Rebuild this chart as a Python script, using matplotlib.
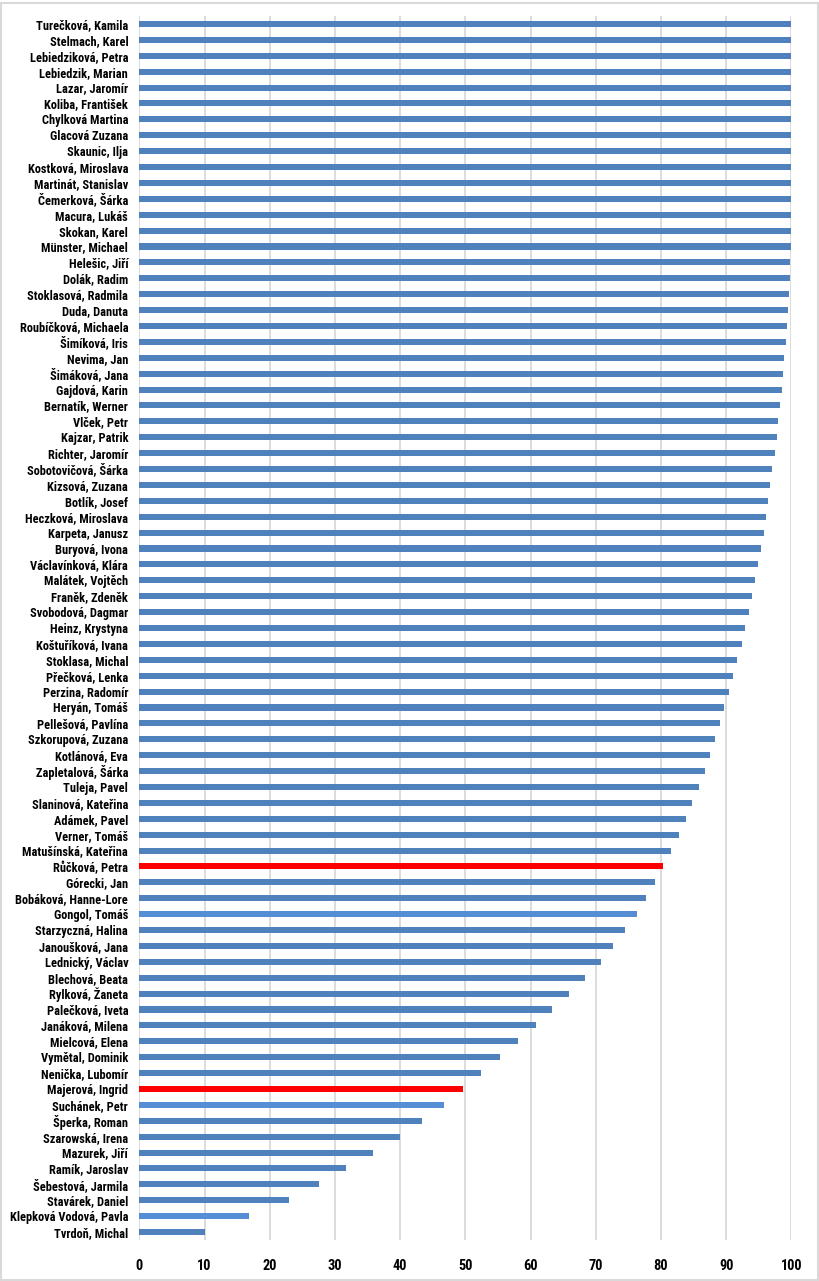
import matplotlib.pyplot as plt
from matplotlib import font_manager
from matplotlib.patches import Rectangle

# narrow bold face similar to Calibri, whichever is installed
installed = {f.name for f in font_manager.fontManager.ttflist}
label_font, label_size, tick_size = 'DejaVu Sans', 6.9, 9.0
for fam, size, tsize in [('Liberation Sans Narrow', 9.1, 11.0), ('DejaVu Sans Condensed', 7.7, 9.4),
                         ('Roboto Condensed', 8.9, 10.4), ('Open Sans Condensed', 8.9, 10.4),
                         ('Liberation Sans', 7.7, 9.4)]:
    if fam in installed:
        label_font, label_size, tick_size = fam, size, tsize
        break

plt.rcParams['font.family'] = [label_font, 'DejaVu Sans']

names = [
    "Turečková, Kamila", "Stelmach, Karel", "Lebiedziková, Petra", "Lebiedzik, Marian",
    "Lazar, Jaromír", "Koliba, František", "Chylková Martina", "Glacová Zuzana",
    "Skaunic, Ilja", "Kostková, Miroslava", "Martinát, Stanislav", "Čemerková, Šárka",
    "Macura, Lukáš", "Skokan, Karel", "Münster, Michael", "Helešic, Jiří",
    "Dolák, Radim", "Stoklasová, Radmila", "Duda, Danuta", "Roubíčková, Michaela",
    "Šimíková, Iris", "Nevima, Jan", "Šimáková, Jana", "Gajdová, Karin",
    "Bernatík, Werner", "Vlček, Petr", "Kajzar, Patrik", "Richter, Jaromír",
    "Sobotovičová, Šárka", "Kizsová, Zuzana", "Botlík, Josef", "Heczková, Miroslava",
    "Karpeta, Janusz", "Buryová, Ivona", "Václavínková, Klára", "Malátek, Vojtěch",
    "Franěk, Zdeněk", "Svobodová, Dagmar", "Heinz, Krystyna", "Koštuříková, Ivana",
    "Stoklasa, Michal", "Přečková, Lenka", "Perzina, Radomír", "Heryán, Tomáš",
    "Pellešová, Pavlína", "Szkorupová, Zuzana", "Kotlánová, Eva", "Zapletalová, Šárka",
    "Tuleja, Pavel", "Slaninová, Kateřina", "Adámek, Pavel", "Verner, Tomáš",
    "Matušínská, Kateřina", "Růčková, Petra", "Górecki, Jan", "Bobáková, Hanne-Lore",
    "Gongol, Tomáš", "Starzyczná, Halina", "Janoušková, Jana", "Lednický, Václav",
    "Blechová, Beata", "Rylková, Žaneta", "Palečková, Iveta", "Janáková, Milena",
    "Mielcová, Elena", "Vymětal, Dominik", "Nenička, Lubomír", "Majerová, Ingrid",
    "Suchánek, Petr", "Šperka, Roman", "Szarowská, Irena", "Mazurek, Jiří",
    "Ramík, Jaroslav", "Šebestová, Jarmila", "Stavárek, Daniel", "Klepková Vodová, Pavla",
    "Tvrdoň, Michal",
]

values = [
    100, 100, 100, 100, 100, 100, 100, 100,
    100, 100, 100, 100, 99.9, 99.9, 99.9, 99.8,
    99.8, 99.6, 99.5, 99.3, 99.2, 98.9, 98.7, 98.6,
    98.2, 97.9, 97.8, 97.5, 97.0, 96.7, 96.4, 96.1,
    95.8, 95.3, 94.9, 94.4, 93.9, 93.5, 92.9, 92.4,
    91.7, 91.0, 90.4, 89.7, 89.1, 88.3, 87.6, 86.8,
    85.9, 84.8, 83.9, 82.8, 81.5, 80.3, 79.1, 77.7,
    76.3, 74.5, 72.7, 70.8, 68.4, 65.9, 63.3, 60.8,
    58.1, 55.3, 52.4, 49.6, 46.7, 43.4, 40.0, 35.8,
    31.7, 27.5, 22.9, 16.8, 10.1,
]

highlight_red = ["Růčková, Petra", "Majerová, Ingrid"]
highlight_light = ["Gongol, Tomáš", "Suchánek, Petr", "Klepková Vodová, Pavla"]
ticks = [0, 10, 20, 30, 40, 50, 60, 70, 80, 90, 100]

colors = []
for n in names:
    if n in highlight_red:
        colors.append('#FF0000')
    elif n in highlight_light:
        colors.append('#558ED5')
    else:
        colors.append('#4F81BD')

fig = plt.figure(figsize=(8.2, 12.81), dpi=100)
ax = fig.add_axes([139.3 / 820, 41 / 1281, 652 / 820, 1224 / 1281])

pos = list(range(len(names)))
ax.barh(pos, values, height=0.38, color=colors, zorder=3)
ax.set_ylim(len(names) - 0.5, -0.5)
ax.set_yticks(pos)
ax.set_yticklabels(names, fontsize=label_size, fontweight='bold')
ax.set_xlim(0, 100)
ax.set_xticks(ticks)
ax.set_xticklabels([str(t) for t in ticks], fontsize=tick_size, fontweight='bold')
ax.tick_params(axis='both', length=0)
ax.tick_params(axis='y', pad=8)
ax.tick_params(axis='x', pad=14)
ax.grid(axis='x', color='#D9D9D9', linewidth=1.3, zorder=0)
for s in ax.spines.values():
    s.set_visible(False)

fig.patches.append(Rectangle((0.001, 0.001), 0.997, 0.997, transform=fig.transFigure,
                             fill=False, edgecolor='#D9D9D9', linewidth=1.5))

fig.savefig('out.png', dpi=100)
